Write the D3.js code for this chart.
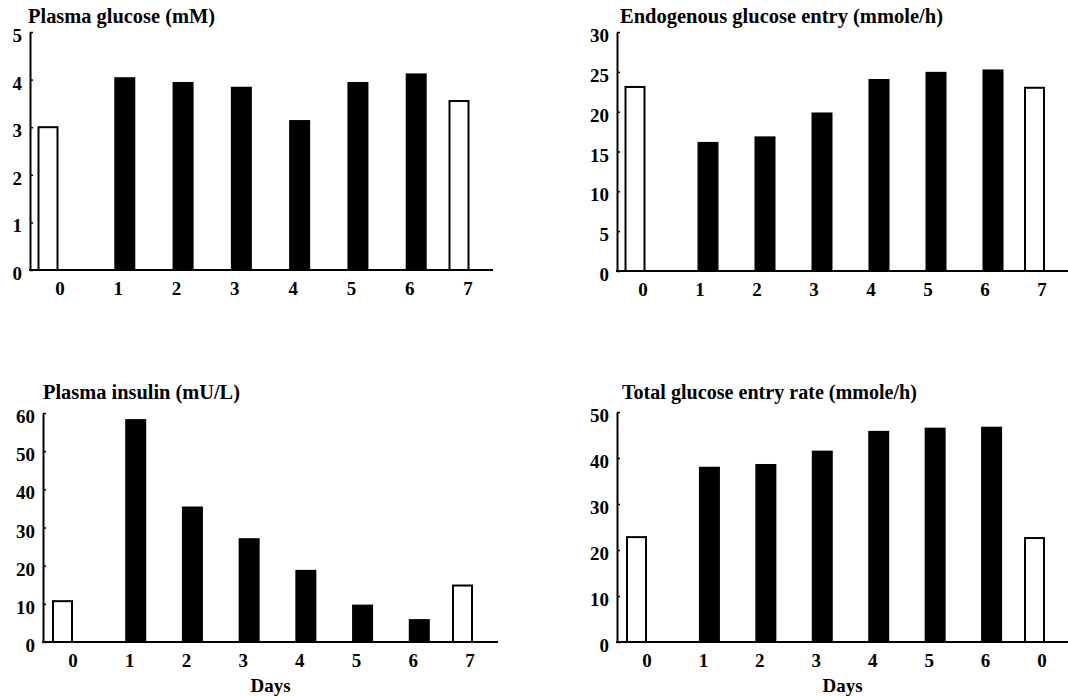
<!DOCTYPE html>
<html>
<head>
<meta charset="utf-8">
<script src="https://cdn.jsdelivr.net/npm/d3@7/dist/d3.min.js"></script>
<style>
  html, body { margin: 0; padding: 0; background: #fff; }
  svg { display: block; }
  text { font-family: "Liberation Serif", "Times New Roman", serif; font-weight: bold; fill: #000; }
</style>
</head>
<body>
<svg id="chart" width="1068" height="696"></svg>
<script>
// ---- data ----
const dayLabels      = ["0", "1", "2", "3", "4", "5", "6", "7"];
const dayLabelsTotal = ["0", "1", "2", "3", "4", "5", "6", "0"];
const isControl      = [true, false, false, false, false, false, false, true];
const plasmaGlucose  = [3.0, 4.05, 3.95, 3.85, 3.15, 3.95, 4.13, 3.55];
const endoGlucose    = [23.1, 16.2, 16.9, 19.9, 24.1, 25.0, 25.3, 23.0];
const plasmaInsulin  = [10.7, 58.4, 35.5, 27.2, 18.9, 9.8, 6.0, 14.8];
const totalGlucose   = [22.8, 38.1, 38.7, 41.6, 45.9, 46.6, 46.8, 22.6];
const ticksGlucose   = [0, 1, 2, 3, 4, 5];
const ticksEndo      = [0, 5, 10, 15, 20, 25, 30];
const ticksInsulin   = [0, 10, 20, 30, 40, 50, 60];
const ticksTotal     = [0, 10, 20, 30, 40, 50];
const titles = ["Plasma glucose (mM)", "Endogenous glucose entry (mmole/h)",
                "Plasma insulin (mU/L)", "Total glucose entry rate (mmole/h)"];
const xTitle = "Days";

// ---- layout ----
const panels = [
  { values: plasmaGlucose, labels: dayLabels, ticks: ticksGlucose, title: titles[0],
    ax: 30, yTop: 32, y0: 270, xEnd: 493, l0: 60, l1: 468, tx: 28, ty: 23, tw: 187, days: false, shifts: [-12, 6.5, -9] },
  { values: endoGlucose, labels: dayLabels, ticks: ticksEndo, title: titles[1],
    ax: 617, yTop: 32, y0: 271, xEnd: 1068, l0: 643, l1: 1042, tx: 620, ty: 23, tw: 323, days: false, shifts: [-8, 8, -7.5] },
  { values: plasmaInsulin, labels: dayLabels, ticks: ticksInsulin, title: titles[2],
    ax: 43, yTop: 413, y0: 642, xEnd: 498, l0: 73, l1: 470, tx: 43, ty: 399, tw: 197, days: true, shifts: [-10.5, 6, -7.5] },
  { values: totalGlucose, labels: dayLabelsTotal, ticks: ticksTotal, title: titles[3],
    ax: 617, yTop: 412, y0: 642, xEnd: 1068, l0: 647, l1: 1042, tx: 622, ty: 399, tw: 295, days: true, shifts: [-10.5, 6, -7.5] }
];
const barW = 21;

const svg = d3.select("#chart");

panels.forEach(p => {
  const g = svg.append("g");
  const idx = d3.range(p.values.length);
  const x = d3.scaleLinear().domain([0, idx.length - 1]).range([p.l0, p.l1]);
  const y = d3.scaleLinear().domain([0, d3.max(p.ticks)]).range([p.y0, p.yTop]);

  // bars
  const shiftOf = i => i === 0 ? p.shifts[0] : (i === idx.length - 1 ? p.shifts[2] : p.shifts[1]);
  g.selectAll("rect.bar").data(idx).enter().append("rect")
    .attr("class", "bar")
    .attr("x", i => x(i) + shiftOf(i) - barW / 2 + (isControl[i] ? 1 : 0))
    .attr("width", i => isControl[i] ? barW - 2 : barW)
    .attr("y", i => y(p.values[i]))
    .attr("height", i => p.y0 - y(p.values[i]))
    .attr("fill", i => isControl[i] ? "#fff" : "#000")
    .attr("stroke", "#000")
    .attr("stroke-width", i => isControl[i] ? 2 : 0);

  // y axis
  const yAxis = d3.axisLeft(y).tickValues(p.ticks).tickSizeInner(-3).tickSizeOuter(0).tickPadding(8)
    .tickFormat(d3.format("d"));
  const ya = g.append("g").attr("transform", `translate(${p.ax},0)`).call(yAxis);
  ya.select(".domain").attr("stroke", "#000").attr("stroke-width", 2);
  ya.selectAll(".tick line").attr("stroke", "#000").attr("stroke-width", 1.5);
  ya.selectAll(".tick text").attr("font-size", 19).attr("dy", "0.5em")
    .style("font-family", "'Liberation Serif', serif").style("font-weight", "bold");

  // x axis line
  g.append("line")
    .attr("x1", p.ax - 1).attr("x2", p.xEnd)
    .attr("y1", p.y0).attr("y2", p.y0)
    .attr("stroke", "#000").attr("stroke-width", 2);

  // x labels
  g.selectAll("text.xl").data(idx).enter().append("text")
    .attr("class", "xl")
    .attr("x", i => x(i)).attr("y", p.y0 + 25)
    .attr("text-anchor", "middle").attr("font-size", 19)
    .text(i => p.labels[i]);

  // title
  g.append("text")
    .attr("x", p.tx).attr("y", p.ty)
    .attr("font-size", 20)
    .attr("textLength", p.tw).attr("lengthAdjust", "spacingAndGlyphs")
    .text(p.title);

  if (p.days) {
    g.append("text")
      .attr("x", (p.ax + p.xEnd) / 2).attr("y", 692)
      .attr("text-anchor", "middle").attr("font-size", 19)
      .text(xTitle);
  }
});
</script>
</body>
</html>
